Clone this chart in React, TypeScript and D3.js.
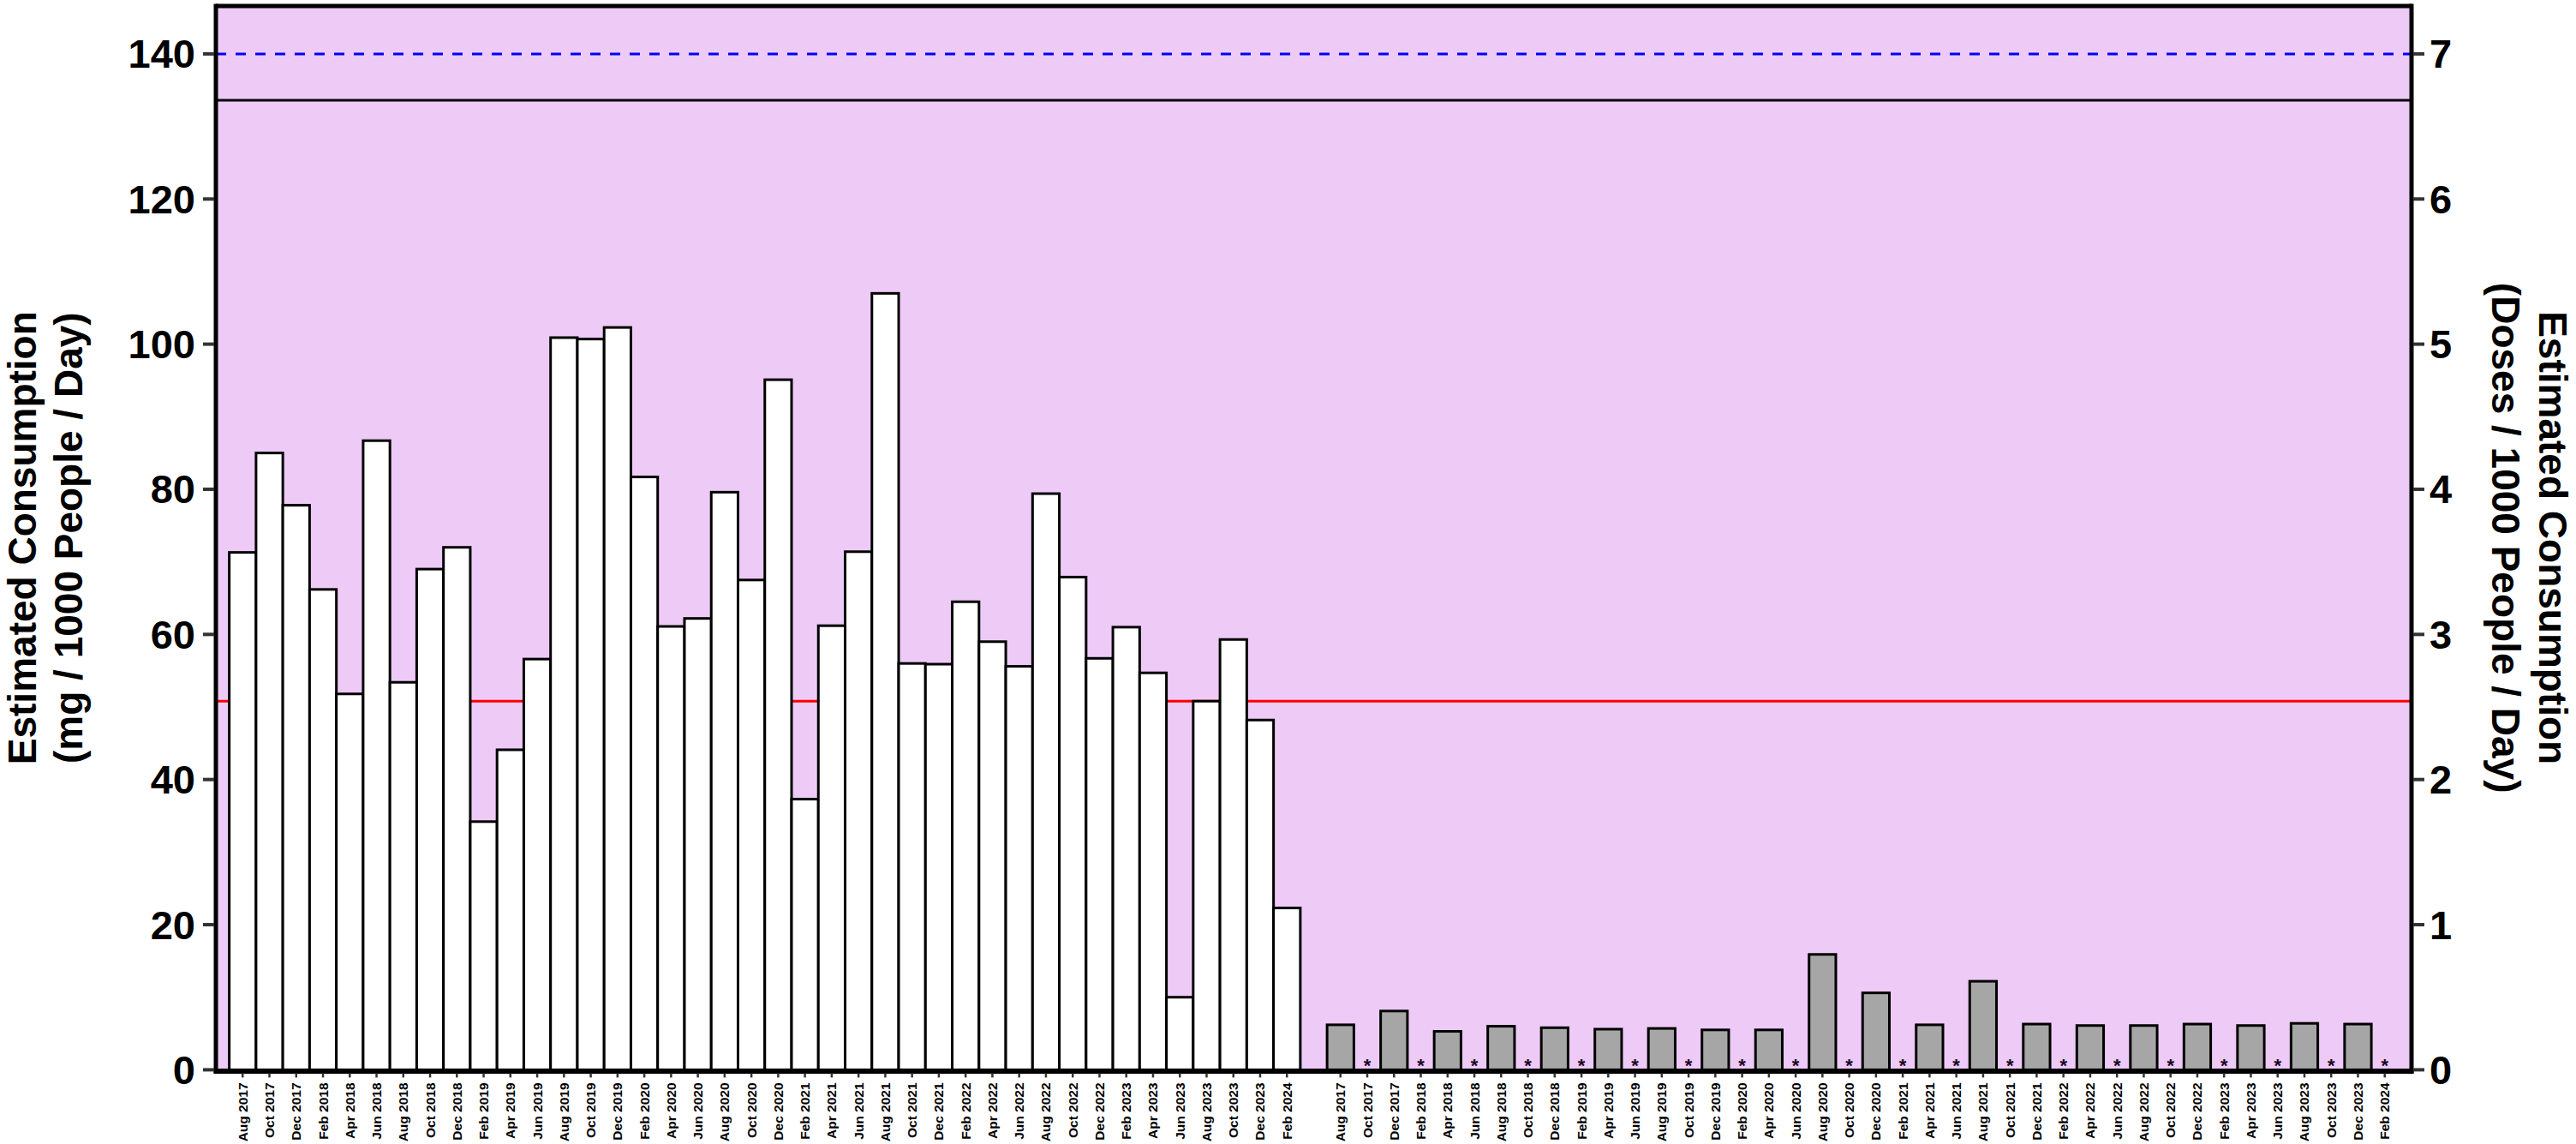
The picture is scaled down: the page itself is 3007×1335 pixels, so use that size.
import * as d3 from "d3";

const months = [
  "Aug 2017", "Oct 2017", "Dec 2017", "Feb 2018", "Apr 2018", "Jun 2018", "Aug 2018", "Oct 2018",
  "Dec 2018", "Feb 2019", "Apr 2019", "Jun 2019", "Aug 2019", "Oct 2019", "Dec 2019", "Feb 2020",
  "Apr 2020", "Jun 2020", "Aug 2020", "Oct 2020", "Dec 2020", "Feb 2021", "Apr 2021", "Jun 2021",
  "Aug 2021", "Oct 2021", "Dec 2021", "Feb 2022", "Apr 2022", "Jun 2022", "Aug 2022", "Oct 2022",
  "Dec 2022", "Feb 2023", "Apr 2023", "Jun 2023", "Aug 2023", "Oct 2023", "Dec 2023", "Feb 2024",
];

// white bars, mg / 1000 people / day (left axis)
const mgValues = [
  71.3, 85.0, 77.8, 66.2, 51.8, 86.7, 53.4, 69.0, 72.0, 34.2,
  44.1, 56.6, 100.9, 100.7, 102.3, 81.7, 61.1, 62.2, 79.6, 67.5,
  95.1, 37.3, 61.2, 71.4, 107.0, 56.0, 55.9, 64.5, 59.0, 55.6,
  79.4, 67.9, 56.7, 61.0, 54.7, 10.0, 50.8, 59.3, 48.2, 22.3,
];

// grey bars, doses / 1000 people / day (right axis); null = "*"
const doseValues = [
  0.31, null, 0.405, null, 0.265, null, 0.3, null, 0.29, null,
  0.28, null, 0.285, null, 0.275, null, 0.275, null, 0.795, null,
  0.53, null, 0.31, null, 0.61, null, 0.315, null, 0.305, null,
  0.305, null, 0.315, null, 0.305, null, 0.32, null, 0.315, null,
];

const leftTicks = [0, 20, 40, 60, 80, 100, 120, 140];
const rightTicks = [0, 1, 2, 3, 4, 5, 6, 7];

const blueDashLevel = 140;
const blackLineLevel = 133.6;
const redLineLevel = 50.8;

const W = 3007;
const H = 1335;
const left = 252;
const right = 2815;
const top = 7;
const bottom = 1248.4;
const font = "'Liberation Sans', Arial, Helvetica, sans-serif";

export default function App() {
  const keys = [...months.map((m) => "A|" + m), "gap", ...months.map((m) => "B|" + m)];
  const x = d3.scaleBand().domain(keys).range([left, right]).paddingInner(0).paddingOuter(0.5);
  const y = d3.scaleLinear().domain([0, 146.6]).range([bottom, top]);
  const y2 = d3.scaleLinear().domain([0, 146.6 / 20]).range([bottom, top]);
  const bw = x.bandwidth();
  const cx = (k: string) => (x(k) as number) + bw / 2;
  const midY = (top + bottom) / 2;

  return (
    <svg
      width={W}
      height={H}
      style={{ position: "absolute", left: 0, top: 0, background: "#fff" }}
      fontFamily={font}
    >
      <rect x={left} y={top} width={right - left} height={bottom - top} fill="#eecaf7" />

      <line x1={left} x2={right} y1={y(blueDashLevel)} y2={y(blueDashLevel)}
        stroke="#0000ff" strokeWidth={3} strokeDasharray="12,11" />
      <line x1={left} x2={right} y1={y(blackLineLevel)} y2={y(blackLineLevel)}
        stroke="#000" strokeWidth={3} />
      <line x1={left} x2={right} y1={y(redLineLevel)} y2={y(redLineLevel)}
        stroke="#ff0000" strokeWidth={3} />

      {months.map((m, i) => (
        <rect key={"w" + m} x={x("A|" + m)} y={y(mgValues[i])} width={bw}
          height={bottom - y(mgValues[i])} fill="#fff" stroke="#000" strokeWidth={3} />
      ))}

      {months.map((m, i) =>
        doseValues[i] == null ? (
          <text key={"s" + m} x={cx("B|" + m)} y={bottom + 3} textAnchor="middle"
            fontSize={22} fontWeight="bold" fill="#1a0a22">*</text>
        ) : (
          <rect key={"g" + m} x={x("B|" + m)} y={y2(doseValues[i] as number)} width={bw}
            height={bottom - y2(doseValues[i] as number)} fill="#a6a6a6" stroke="#000" strokeWidth={3} />
        )
      )}

      {/* frame */}
      <line x1={left} x2={right} y1={top} y2={top} stroke="#000" strokeWidth={5} />
      <line x1={left} x2={left} y1={top - 2.5} y2={bottom + 4} stroke="#000" strokeWidth={5} />
      <line x1={right} x2={right} y1={top - 2.5} y2={bottom + 4} stroke="#000" strokeWidth={5} />
      <line x1={left - 2.5} x2={right + 2.5} y1={bottom + 1.5} y2={bottom + 1.5} stroke="#000" strokeWidth={6} />

      {/* left axis */}
      {leftTicks.map((t) => (
        <g key={"l" + t}>
          <line x1={left - 15} x2={left - 2} y1={y(t)} y2={y(t)} stroke="#333" strokeWidth={4} />
          <text x={left - 24} y={y(t)} textAnchor="end" dominantBaseline="central"
            fontSize={47} fontWeight="bold" fill="#000">{t}</text>
        </g>
      ))}

      {/* right axis */}
      {rightTicks.map((t) => (
        <g key={"r" + t}>
          <line x1={right + 2} x2={right + 15} y1={y2(t)} y2={y2(t)} stroke="#333" strokeWidth={4} />
          <text x={right + 21} y={y2(t)} textAnchor="start" dominantBaseline="central"
            fontSize={47} fontWeight="bold" fill="#000">{t}</text>
        </g>
      ))}

      {/* x axis */}
      {keys.filter((k) => k !== "gap").map((k) => (
        <g key={"x" + k}>
          <line x1={cx(k)} x2={cx(k)} y1={bottom + 4} y2={bottom + 9} stroke="#333" strokeWidth={2.5} />
          <text transform={`translate(${cx(k)},${bottom + 15}) rotate(-90)`} textAnchor="end"
            dominantBaseline="central" fontSize={15.5} fontWeight="bold" fill="#000">
            {k.split("|")[1]}
          </text>
        </g>
      ))}

      {/* axis titles */}
      <text transform={`translate(26,${midY}) rotate(-90)`} textAnchor="middle"
        dominantBaseline="central" fontSize={46} fontWeight="bold">Estimated Consumption</text>
      <text transform={`translate(80,${midY}) rotate(-90)`} textAnchor="middle"
        dominantBaseline="central" fontSize={46} fontWeight="bold">(mg / 1000 People / Day)</text>
      <text transform={`translate(2980,${midY}) rotate(90)`} textAnchor="middle"
        dominantBaseline="central" fontSize={46} fontWeight="bold">Estimated Consumption</text>
      <text transform={`translate(2925,${midY}) rotate(90)`} textAnchor="middle"
        dominantBaseline="central" fontSize={46} fontWeight="bold">(Doses / 1000 People / Day)</text>
    </svg>
  );
}
